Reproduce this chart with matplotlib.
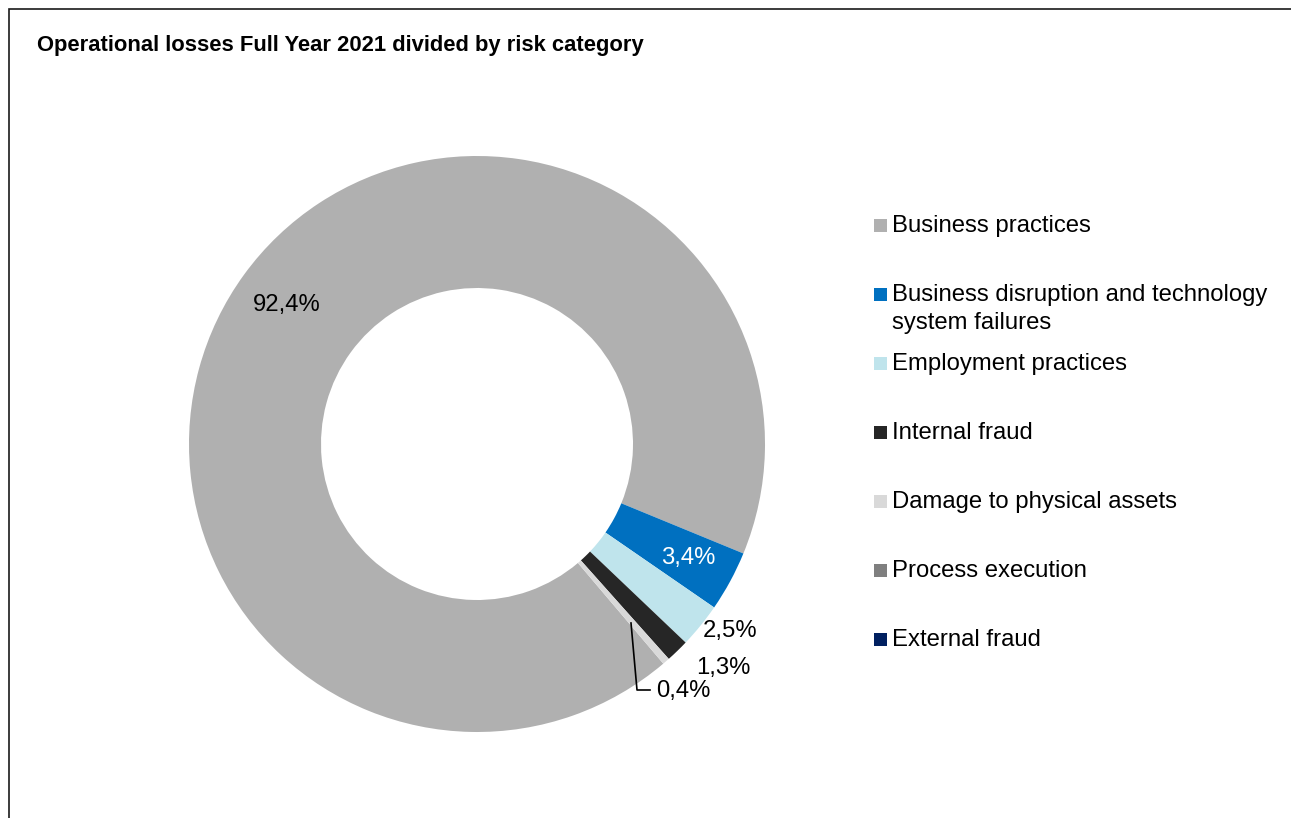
import matplotlib.pyplot as plt
from matplotlib.patches import Rectangle

# Operational losses 2021 by risk category (share of total, %)
categories = ['Business practices',
              'Business disruption and technology\nsystem failures',
              'Employment practices', 'Internal fraud',
              'Damage to physical assets', 'Process execution',
              'External fraud']
shares = [92.4, 3.4, 2.5, 1.3, 0.4, 0.0, 0.0]
colors = ['#b0b0b0', '#0070c0', '#bfe4ec', '#262626', '#d9d9d9',
          '#7f7f7f', '#002060']

plt.rcParams['font.family'] = ['Liberation Sans', 'DejaVu Sans']

W, H = 1291, 818
fig = plt.figure(figsize=(W / 100, H / 100), dpi=100)

# thin frame along top and left edge
fig.add_artist(Rectangle((9 / W, -0.1), 1.2, 1.1 - 9 / H,
                         transform=fig.transFigure, fill=False,
                         edgecolor='#1a1a1a', linewidth=1.2))

fig.text(37 / W, 1 - 45 / H,
         'Operational losses Full Year 2021 divided by risk category',
         fontweight='bold', fontsize=15.85, va='center', ha='left')

# donut
cx, cy, R = 477, 444, 288
ax = fig.add_axes([(cx - R) / W, (H - cy - R) / H, 2 * R / W, 2 * R / H])
wedges, _ = ax.pie(shares, colors=colors, startangle=-49.7,
                   counterclock=False, radius=1,
                   wedgeprops=dict(width=132 / R, linewidth=0))
ax.set_xlim(-1, 1)
ax.set_ylim(-1, 1)
ax.axis('off')


def px(x, y):
    return (x - cx) / R, (cy - y) / R


def pct(v):
    return f'{v:.1f}%'.replace('.', ',')


label_pos = [(287, 305), (688, 558), (730, 631), (723, 668), (683, 691)]
label_col = ['black', 'white', 'black', 'black', 'black']
for v, pos, c in zip(shares, label_pos, label_col):
    ax.text(*px(*pos), pct(v), color=c, fontsize=17.2,
            ha='center', va='center')

# leader line for the smallest slice
lx, ly = zip(px(631, 623), px(637, 690), px(650, 690))
ax.plot(lx, ly, color='black', linewidth=1.2, clip_on=False)

# legend
for i, (name, c) in enumerate(zip(categories, colors)):
    ytop = 215 + 69 * i
    fig.add_artist(Rectangle((874 / W, 1 - 231.5 / H - 69 * i / H),
                             13 / W, 13 / H,
                             transform=fig.transFigure, facecolor=c,
                             edgecolor='none'))
    fig.text(892 / W, 1 - ytop / H, name, fontsize=17.2, va='top',
             ha='left', linespacing=1.33)

fig.savefig('out.png', dpi=100)
